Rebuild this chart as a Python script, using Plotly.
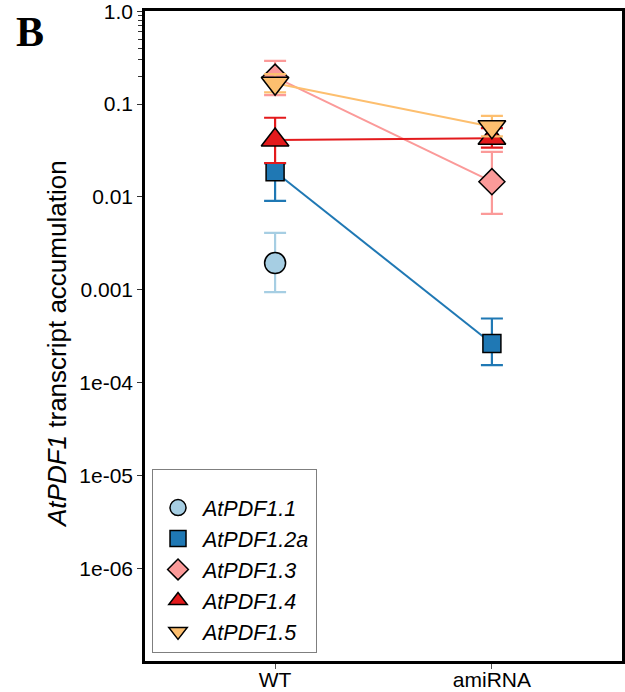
import plotly.graph_objects as go

categories = ["WT", "amiRNA"]
genes = ["AtPDF1.1", "AtPDF1.2a", "AtPDF1.3", "AtPDF1.4", "AtPDF1.5"]

mean_11 = [0.00194, None]
mean_12a = [0.0187, 0.000263]
mean_13 = [0.195, 0.0146]
mean_14 = [0.041, 0.0428]
mean_15 = [0.168, 0.057]

upper_11 = [0.0041, None]
upper_12a = [0.023, 0.00049]
upper_13 = [0.292, 0.0305]
upper_14 = [0.0713, 0.055]
upper_15 = [0.21, 0.0748]

lower_11 = [0.00094, None]
lower_12a = [0.00906, 0.000154]
lower_13 = [0.125, 0.00656]
lower_14 = [0.0232, 0.0339]
lower_15 = [0.134, 0.045]

tick_vals = [1.0, 0.1, 0.01, 0.001, 1e-4, 1e-5, 1e-6]
tick_text = ["1.0", "0.1", "0.01", "0.001", "1e-04", "1e-05", "1e-06"]
minor_vals = [0.2, 0.3, 0.4, 0.5, 0.6, 0.7, 0.8, 0.9]

means = [mean_11, mean_12a, mean_13, mean_14, mean_15]
uppers = [upper_11, upper_12a, upper_13, upper_14, upper_15]
lowers = [lower_11, lower_12a, lower_13, lower_14, lower_15]
colors = ["#A6CEE3", "#1F78B4", "#FB9A99", "#E31A1C", "#FDBF6F"]
symbols = ["circle", "square", "diamond", "triangle-up", "triangle-down"]
sizes = [21, 18, 20, 24, 24]

fig = go.Figure()
for g, m, u, lo, c, s, sz in zip(genes, means, uppers, lowers, colors, symbols, sizes):
    plus = [(a - b) if (a is not None and b is not None) else None for a, b in zip(u, m)]
    minus = [(b - a) if (a is not None and b is not None) else None for a, b in zip(lo, m)]
    fig.add_trace(go.Scatter(
        x=categories, y=m, name=g, legendgroup=g, showlegend=False,
        mode="lines", line=dict(color=c, width=2), hoverinfo="skip",
    ))
    fig.add_trace(go.Scatter(
        x=categories, y=m, name=g, legendgroup=g,
        mode="markers",
        marker=dict(symbol=s, size=sz, color=c, line=dict(color="black", width=1.5)),
        error_y=dict(type="data", array=plus, arrayminus=minus, symmetric=False,
                     color=c, thickness=2.2, width=11),
    ))

fig.update_layout(
    width=625, height=692,
    margin=dict(l=145, r=3, t=11, b=31, autoexpand=False),
    paper_bgcolor="white", plot_bgcolor="white",
    font=dict(family="Liberation Sans, Arial, sans-serif", size=21, color="black"),
    showlegend=True,
    legend=dict(
        x=0.0147, xanchor="left", y=0.012, yanchor="bottom",
        bgcolor="white", bordercolor="#7f7f7f", borderwidth=1,
        font=dict(size=21.5, style="italic"),
        tracegroupgap=0,
        itemwidth=40,
        title=dict(text=" ", font=dict(size=13)),
    ),
    xaxis=dict(
        type="category", range=[-0.6, 1.6], automargin=False,
        showline=True, linecolor="black", linewidth=2.5, mirror=True,
        ticks="outside", ticklen=5, tickcolor="#555", tickwidth=1,
        ticklabelstandoff=-7,
        showgrid=False, zeroline=False,
        tickfont=dict(size=21),
    ),
    yaxis=dict(
        type="log", range=[-7, 0.003], automargin=False,
        showline=True, linecolor="black", linewidth=2.5, mirror=True,
        tickmode="array",
        tickvals=tick_vals,
        ticktext=tick_text,
        ticklabeloverflow="allow",
        ticks="outside", ticklen=5, tickcolor="#333", tickwidth=1.3,
        minor=dict(tickmode="array", tickvals=minor_vals, ticks="outside",
                   ticklen=4, tickcolor="#333", tickwidth=1.2, showgrid=False),
        showgrid=False, zeroline=False,
        tickfont=dict(size=21),
    ),
    annotations=[
        dict(text="<i>AtPDF1</i> transcript accumulation", textangle=-90,
             xref="paper", yref="paper", x=(57 - 145) / 477, y=(661 - 344) / 650,
             xanchor="center", yanchor="middle", showarrow=False,
             font=dict(size=26)),
        dict(text="<b>B</b>", xref="paper", yref="paper",
             x=(30 - 145) / 477, y=(661 - 32) / 650,
             xanchor="center", yanchor="middle", showarrow=False,
             font=dict(family="Liberation Serif, Times New Roman, serif", size=42)),
    ],
)

fig.write_html(
    "out.html",
    config={"displayModeBar": False},
    post_script="document.body.style.margin='0px';document.body.style.overflow='hidden';",
)
